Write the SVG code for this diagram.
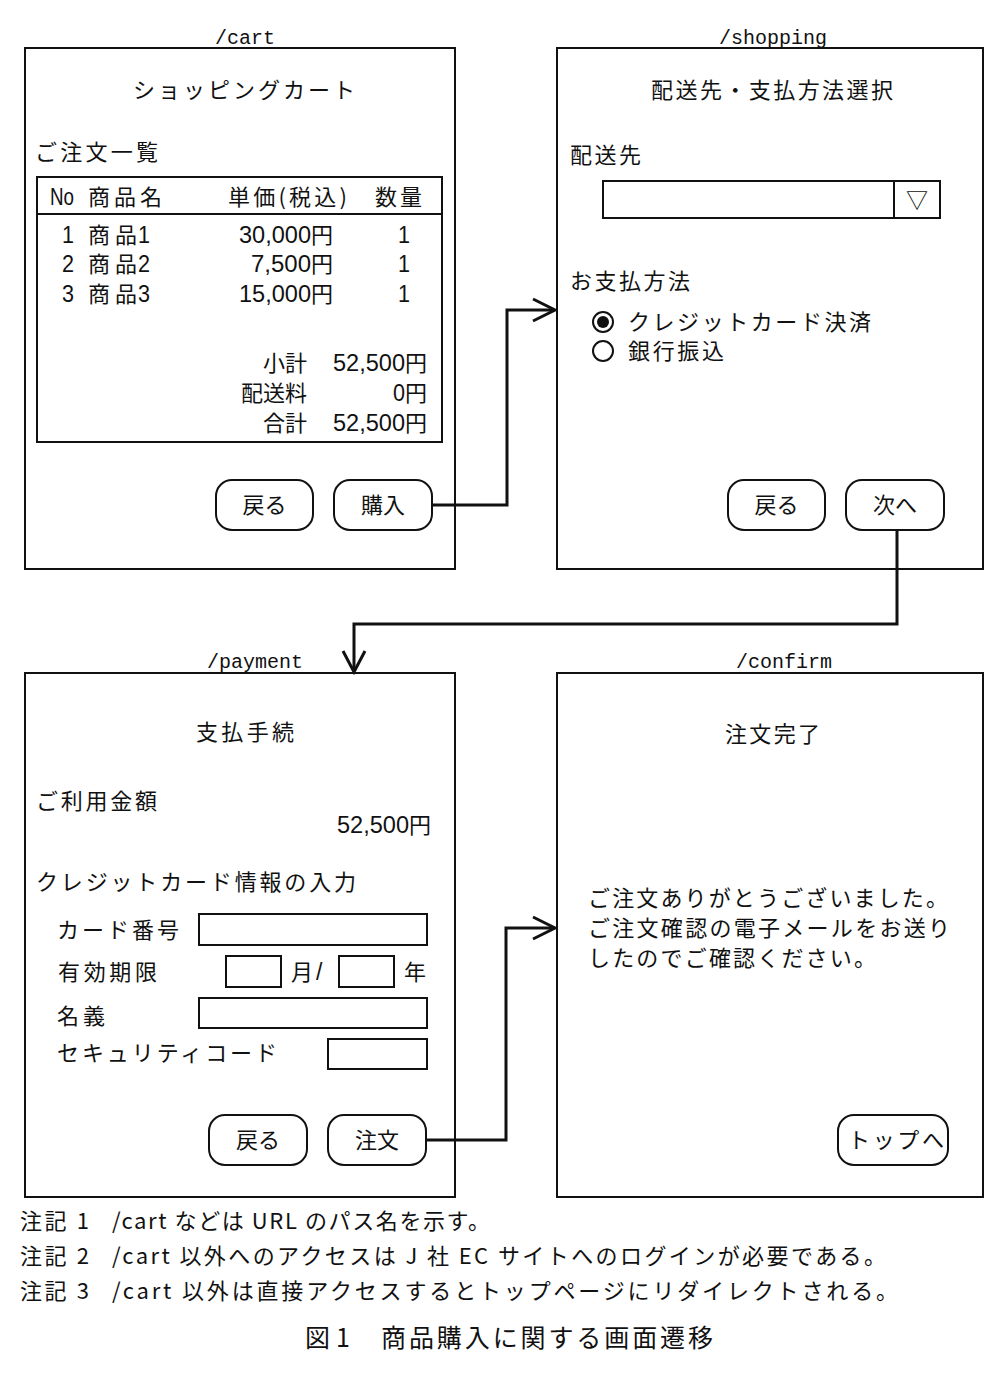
<svg xmlns="http://www.w3.org/2000/svg" width="1002" height="1387" viewBox="0 0 1002 1387">
<style>
.t{font-family:"Noto Sans CJK JP","Noto Sans CJK SC",sans-serif;font-size:22px;fill:#111}
.m{font-family:"Liberation Mono","DejaVu Sans Mono",monospace;font-size:20px;fill:#111}
.d{font-family:"Liberation Sans","DejaVu Sans",sans-serif;font-size:23px;fill:#111}
.panel{fill:#fff;stroke:#111;stroke-width:2}
.box{fill:#fff;stroke:#111;stroke-width:2}
.btn{fill:#fff;stroke:#111;stroke-width:2}
.conn{fill:none;stroke:#111;stroke-width:3}
.note{font-family:"Noto Sans CJK JP","Noto Sans CJK SC",sans-serif;font-size:22px;fill:#111}
.cap{font-family:"Noto Sans CJK JP","Noto Sans CJK SC",sans-serif;font-size:25px;fill:#111}
</style>
<rect width="1002" height="1387" fill="#fff"/>

<g id="cart">
<text class="m" x="245" y="44" text-anchor="middle">/cart</text>
<rect class="panel" x="25" y="48" width="430" height="521"/>
<text class="t" x="133" y="98" textLength="222">ショッピングカート</text>
<text class="t" x="35" y="160" textLength="123">ご注文一覧</text>
<rect class="box" x="37" y="177" width="405" height="265"/>
<line x1="37" y1="214" x2="442" y2="214" stroke="#111" stroke-width="2"/>
<text class="d" x="50" y="205" textLength="24" lengthAdjust="spacingAndGlyphs">No</text>
<text class="t" x="88" y="205" textLength="74">商品名</text>
<text class="t" x="228" y="205" textLength="119">単価(税込)</text>
<text class="t" x="375" y="205" textLength="47">数量</text>

<text class="d" x="62" y="243" textLength="12" lengthAdjust="spacingAndGlyphs">1</text>
<text class="t" x="88" y="243" textLength="49">商品</text>
<text class="d" x="138" y="243" textLength="12" lengthAdjust="spacingAndGlyphs">1</text>
<text class="d" x="311" y="243" text-anchor="end" textLength="72" lengthAdjust="spacingAndGlyphs">30,000</text>
<text class="t" x="311" y="243">円</text>
<text class="d" x="398" y="243" textLength="12" lengthAdjust="spacingAndGlyphs">1</text>

<text class="d" x="62" y="272" textLength="12" lengthAdjust="spacingAndGlyphs">2</text>
<text class="t" x="88" y="272" textLength="49">商品</text>
<text class="d" x="138" y="272" textLength="12" lengthAdjust="spacingAndGlyphs">2</text>
<text class="d" x="311" y="272" text-anchor="end" textLength="60" lengthAdjust="spacingAndGlyphs">7,500</text>
<text class="t" x="311" y="272">円</text>
<text class="d" x="398" y="272" textLength="12" lengthAdjust="spacingAndGlyphs">1</text>

<text class="d" x="62" y="302" textLength="12" lengthAdjust="spacingAndGlyphs">3</text>
<text class="t" x="88" y="302" textLength="49">商品</text>
<text class="d" x="138" y="302" textLength="12" lengthAdjust="spacingAndGlyphs">3</text>
<text class="d" x="311" y="302" text-anchor="end" textLength="72" lengthAdjust="spacingAndGlyphs">15,000</text>
<text class="t" x="311" y="302">円</text>
<text class="d" x="398" y="302" textLength="12" lengthAdjust="spacingAndGlyphs">1</text>

<text class="t" x="307" y="371" text-anchor="end">小計</text>
<text class="d" x="405" y="371" text-anchor="end" textLength="72" lengthAdjust="spacingAndGlyphs">52,500</text>
<text class="t" x="405" y="371">円</text>
<text class="t" x="307" y="401" text-anchor="end">配送料</text>
<text class="d" x="405" y="401" text-anchor="end" textLength="12" lengthAdjust="spacingAndGlyphs">0</text>
<text class="t" x="405" y="401">円</text>
<text class="t" x="307" y="431" text-anchor="end">合計</text>
<text class="d" x="405" y="431" text-anchor="end" textLength="72" lengthAdjust="spacingAndGlyphs">52,500</text>
<text class="t" x="405" y="431">円</text>
<rect class="btn" x="216" y="480" width="97" height="50" rx="16"/>
<text class="t" x="264.5" y="513" text-anchor="middle">戻る</text>
<rect class="btn" x="334" y="480" width="98" height="50" rx="16"/>
<text class="t" x="383" y="513" text-anchor="middle">購入</text>
</g>

<g id="shopping">
<text class="m" x="773" y="44" text-anchor="middle">/shopping</text>
<rect class="panel" x="557" y="48" width="426" height="521"/>
<text class="t" x="651" y="98" textLength="242">配送先・支払方法選択</text>
<text class="t" x="570" y="163" textLength="71">配送先</text>
<rect class="box" x="603" y="181" width="337" height="37"/>
<line x1="894" y1="181" x2="894" y2="218" stroke="#111" stroke-width="2"/>
<text class="t" x="917" y="208" text-anchor="middle">▽</text>
<text class="t" x="570" y="289" textLength="120">お支払方法</text>
<circle cx="603" cy="322" r="10" fill="#fff" stroke="#111" stroke-width="2"/>
<circle cx="603" cy="322" r="6" fill="#111"/>
<text class="t" x="628" y="330" textLength="243">クレジットカード決済</text>
<circle cx="603" cy="351" r="10" fill="#fff" stroke="#111" stroke-width="2"/>
<text class="t" x="628" y="359" textLength="96">銀行振込</text>
<rect class="btn" x="728" y="480" width="97" height="50" rx="16"/>
<text class="t" x="776.5" y="513" text-anchor="middle">戻る</text>
<rect class="btn" x="846" y="480" width="98" height="50" rx="16"/>
<text class="t" x="895" y="513" text-anchor="middle">次へ</text>
</g>

<g id="payment">
<text class="m" x="255" y="668" text-anchor="middle">/payment</text>
<rect class="panel" x="25" y="673" width="430" height="524"/>
<text class="t" x="196" y="740" textLength="98">支払手続</text>
<text class="t" x="36" y="809" textLength="121">ご利用金額</text>
<text class="d" x="409" y="833" text-anchor="end" textLength="72" lengthAdjust="spacingAndGlyphs">52,500</text>
<text class="t" x="409" y="833">円</text>
<text class="t" x="36" y="890" textLength="320">クレジットカード情報の入力</text>
<text class="t" x="57" y="938" textLength="122">カード番号</text>
<rect class="box" x="199" y="914" width="228" height="31"/>
<text class="t" x="58" y="980" textLength="99">有効期限</text>
<rect class="box" x="226" y="956" width="55" height="31"/>
<text class="t" x="291" y="980">月</text>
<text class="d" x="316" y="980">/</text>
<rect class="box" x="339" y="956" width="55" height="31"/>
<text class="t" x="404" y="980">年</text>
<text class="t" x="57" y="1024" textLength="48">名義</text>
<rect class="box" x="199" y="998" width="228" height="30"/>
<text class="t" x="57" y="1061" textLength="220">セキュリティコード</text>
<rect class="box" x="328" y="1039" width="99" height="30"/>
<rect class="btn" x="209" y="1115" width="98" height="50" rx="16"/>
<text class="t" x="258" y="1148" text-anchor="middle">戻る</text>
<rect class="btn" x="328" y="1115" width="98" height="50" rx="16"/>
<text class="t" x="377" y="1148" text-anchor="middle">注文</text>
</g>

<g id="confirm">
<text class="m" x="784" y="668" text-anchor="middle">/confirm</text>
<rect class="panel" x="557" y="673" width="426" height="524"/>
<text class="t" x="725" y="742" textLength="95">注文完了</text>
<text class="t" x="588" y="906" textLength="360">ご注文ありがとうございました。</text>
<text class="t" x="588" y="936" textLength="362">ご注文確認の電子メールをお送り</text>
<text class="t" x="588" y="966" textLength="288">したのでご確認ください。</text>
<rect class="btn" x="838" y="1115" width="110" height="50" rx="16"/>
<text class="t" x="848" y="1148" textLength="96">トップへ</text>
</g>

<g id="connectors">
<path class="conn" d="M432 505 H507 V310 H555"/>
<polyline class="conn" points="533,299 555,310 533,321"/>
<path class="conn" d="M897 530 V624 H354 V671"/>
<polyline class="conn" points="343,651 354,672 365,651"/>
<path class="conn" d="M426 1140 H506 V928 H555"/>
<polyline class="conn" points="533,917 555,928 533,939"/>
</g>

<g id="notes">
<text class="note" x="20" y="1229" textLength="69">注記 1</text>
<text class="note" x="112" y="1229" textLength="378">/cart などは URL のパス名を示す。</text>
<text class="note" x="20" y="1264" textLength="69">注記 2</text>
<text class="note" x="112" y="1264" textLength="774">/cart 以外へのアクセスは J 社 EC サイトへのログインが必要である。</text>
<text class="note" x="20" y="1299" textLength="69">注記 3</text>
<text class="note" x="112" y="1299" textLength="786">/cart 以外は直接アクセスするとトップページにリダイレクトされる。</text>
<text class="cap" x="305" y="1347" textLength="45">図 1</text>
<text class="cap" x="381" y="1347" textLength="332">商品購入に関する画面遷移</text>
</g>
</svg>
